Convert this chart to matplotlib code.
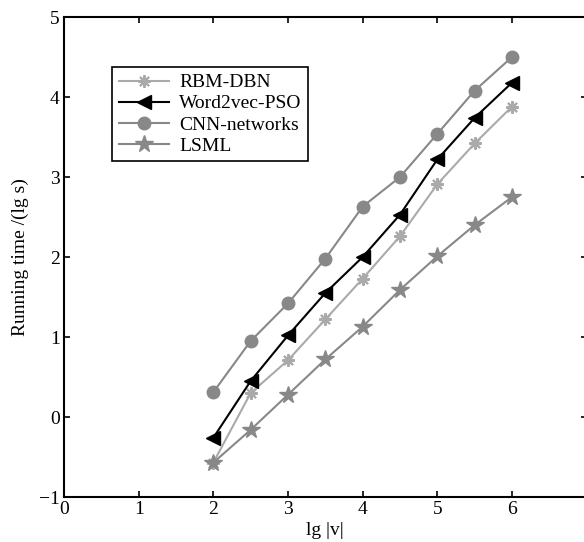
import matplotlib
matplotlib.use('Agg')
from matplotlib import pyplot as plt

x = [2, 2.5, 3, 3.5, 4, 4.5, 5, 5.5, 6]
rbm_dbn = [-0.57, 0.30, 0.71, 1.22, 1.73, 2.26, 2.91, 3.42, 3.88]
word2vec_pso = [-0.26, 0.45, 1.02, 1.55, 2.00, 2.53, 3.22, 3.74, 4.18]
cnn_networks = [0.31, 0.95, 1.42, 1.98, 2.63, 3.00, 3.54, 4.08, 4.50]
lsml = [-0.57, -0.16, 0.28, 0.72, 1.13, 1.59, 2.01, 2.40, 2.75]

xticks = [0, 1, 2, 3, 4, 5, 6, 7]
yticks = [-1, 0, 1, 2, 3, 4, 5]

plt.rcParams['font.family'] = ['Liberation Serif', 'DejaVu Serif']
plt.rcParams['font.size'] = 14
plt.rcParams['axes.unicode_minus'] = True

fig = plt.figure(figsize=(5.84, 5.42), dpi=100, facecolor='w')
ax = fig.add_axes([64 / 584, 1 - 497 / 542, 522.7 / 584, 480 / 542])

ax.plot(x, rbm_dbn, color='#aaaaaa', lw=1.5, marker=(8, 2, 0), ms=9, mew=1.5,
        label='RBM-DBN')
ax.plot(x, word2vec_pso, color='black', lw=1.5, marker='<', ms=10,
        label='Word2vec-PSO')
ax.plot(x, cnn_networks, color='#888888', lw=1.5, marker='o', ms=9,
        label='CNN-networks')
ax.plot(x, lsml, color='#888888', lw=1.5, marker='*', ms=13,
        label='LSML')

ax.set_xlim(0, 7)
ax.set_ylim(-1, 5)
ax.set_xticks(xticks)
ax.set_xticklabels(['0', '1', '2', '3', '4', '5', '6', ''])
ax.set_yticks(yticks)
ax.set_yticklabels(['\u22121', '0', '1', '2', '3', '4', '5'])
ax.tick_params(direction='in', top=True, right=True, length=4, width=1.2,
               labelsize=14, pad=3)
for s in ax.spines.values():
    s.set_linewidth(1.5)

ax.set_xlabel('lg |v|', fontsize=14, labelpad=3)
ax.set_ylabel('Running time /(lg s)', fontsize=14, labelpad=7)

leg = ax.legend(loc='upper left', bbox_to_anchor=(0.092, 0.896), borderaxespad=0,
                fancybox=False, framealpha=1, edgecolor='black', fontsize=14,
                handlelength=2.6, handletextpad=0.5, labelspacing=0.18,
                borderpad=0.35)
leg.get_frame().set_linewidth(1.2)

plt.savefig('out.png', dpi=100)
